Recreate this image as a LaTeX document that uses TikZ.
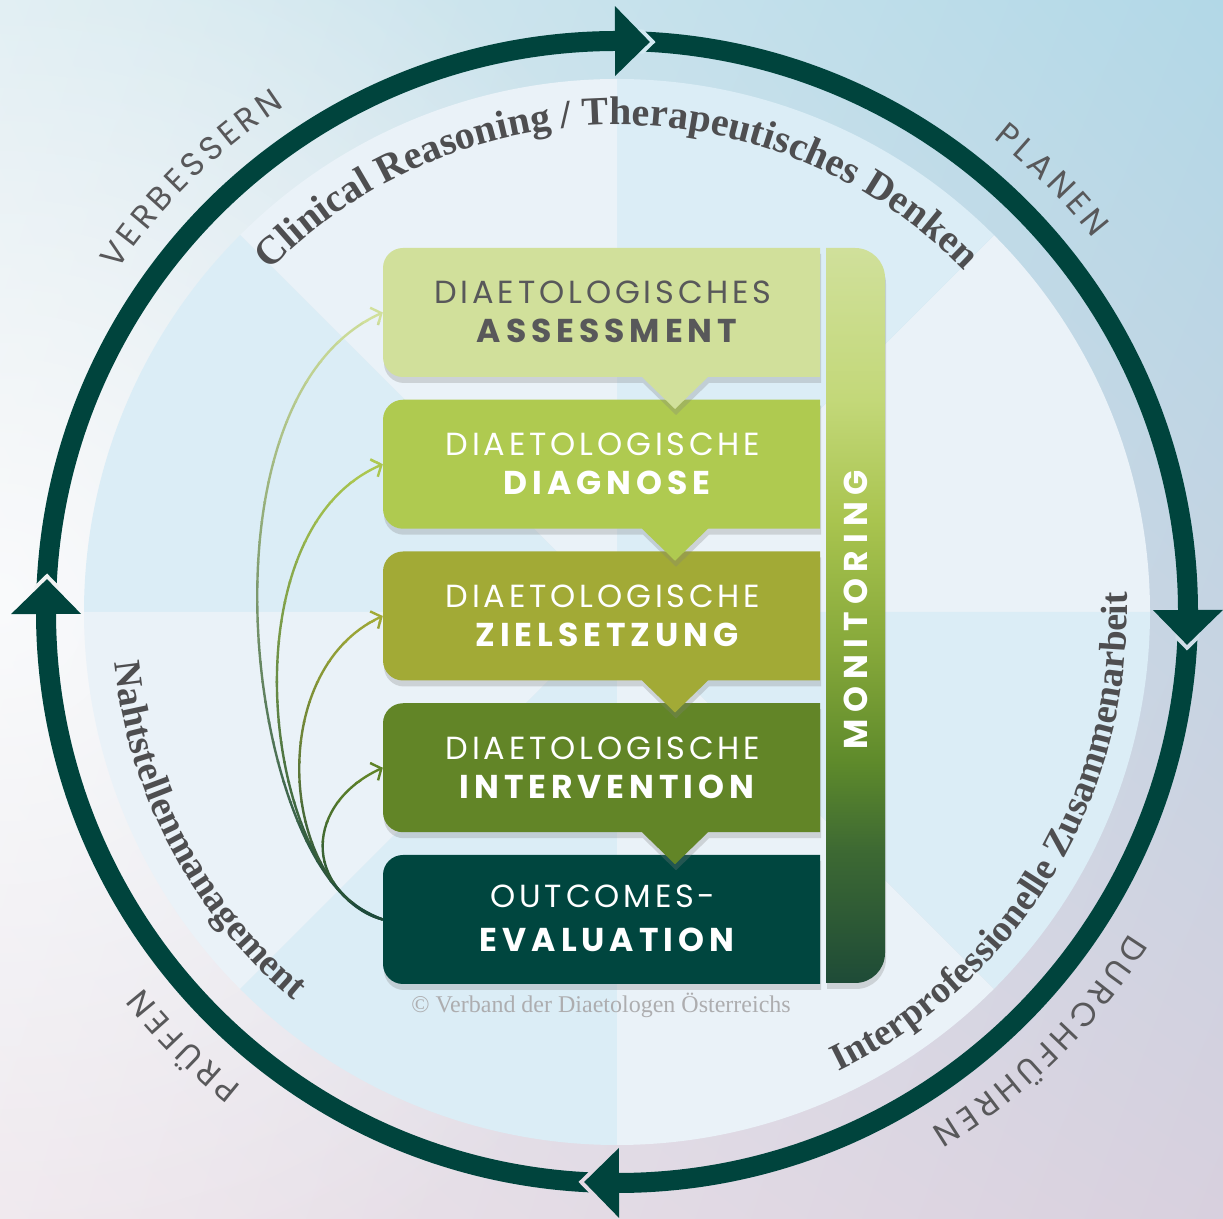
\documentclass[tikz,border=0pt]{standalone}
\usepackage{fontspec}
\usetikzlibrary{calc,decorations.text,shadows,shadings,arrows.meta,fadings}
\newfontfamily\poplt[LetterSpace=12]{Poppins}
\newfontfamily\popbd[LetterSpace=15]{Poppins}
\newfontfamily\popmon[LetterSpace=21]{Poppins}
\newfontfamily\popout{Poppins}
\newfontfamily\serf{Liberation Serif}
\definecolor{ringc}{HTML}{00443D}
\definecolor{cA}{HTML}{D1E09B}
\definecolor{cB}{HTML}{AFCA50}
\definecolor{cC}{HTML}{A2AA36}
\definecolor{cD}{HTML}{628527}
\definecolor{cE}{HTML}{00463F}
\definecolor{tgray}{HTML}{58585A}
\definecolor{arcgray}{HTML}{4E4E50}
\definecolor{dk}{HTML}{1D4A3B}
\definecolor{cpy}{HTML}{ADADAF}
\definecolor{ul}{HTML}{DCECF1}
\definecolor{ur}{HTML}{B2D8E7}
\definecolor{ll}{HTML}{EEE6EC}
\definecolor{lr}{HTML}{D8D0DE}
\definecolor{dlt}{HTML}{EAF2F8}
\definecolor{dbl}{HTML}{DBEDF6}
\definecolor{gapT}{HTML}{D3EAF2}
\definecolor{gapR}{HTML}{D0DEE8}
\definecolor{gapB}{HTML}{E5DBE5}
\definecolor{gapL}{HTML}{F1F3F3}
\definecolor{m0}{HTML}{1E4B37}
\definecolor{m1}{HTML}{3D6933}
\definecolor{m2}{HTML}{5E8A2B}
\definecolor{m3}{HTML}{86A83A}
\definecolor{m4}{HTML}{A9C44F}
\definecolor{m5}{HTML}{C3D879}
\definecolor{m6}{HTML}{D0E09B}
\pgfdeclareverticalshading{monshade}{100bp}{color(0bp)=(m0); color(25bp)=(m0); color(34bp)=(m1); color(40bp)=(m2); color(47.7bp)=(m3); color(56.5bp)=(m4); color(64.7bp)=(m5); color(75bp)=(m6); color(100bp)=(m6)}
\tikzfading[name=softglow, inner color=transparent!0, outer color=transparent!100]
\tikzset{
  boxnode/.style={minimum width=437pt, minimum height=129pt, inner sep=0pt},
  boxshadow/.style={drop shadow={shadow xshift=1pt, shadow yshift=-6pt, opacity=0.28}},
  lineone/.style={anchor=base, inner sep=0pt},
  conn/.style={line width=2.4pt, -{Straight Barb[length=8pt, width=19pt, line width=2.4pt]}},
  outlbl/.style={decorate, decoration={text along path, text align=center, text color=tgray,
      text={|\popout\fontsize{33}{33}\selectfont\fontdimen2\font=4.5pt|#1}}},
  arclbl/.style 2 args={decorate, decoration={text along path, text align=center, text color=arcgray,
      text={|\serf\bfseries\fontsize{#1}{#1}\selectfont|#2}}}
}
\begin{document}
\begin{tikzpicture}[x=1pt,y=1pt]
\useasboundingbox (0,0) rectangle (1223,1218);
\coordinate (C) at (617,606);
% background
\shade[upper left=ul, upper right=ur, lower left=ll, lower right=lr] (0,0) rectangle (1223,1218);
\fill[white, fill opacity=0.8, path fading=softglow] (0,620) circle[radius=760];
% inner disk octants
\foreach \a/\c in {0/dlt,45/dbl,90/dlt,135/dbl,180/dlt,225/dbl,270/dlt,315/dbl}{
  \fill[\c] (C) -- ($(C)+(\a:533)$) arc[start angle=\a, end angle=\a+45, radius=533] -- cycle;
}
% ring
\draw[ringc, line width=20pt] (C) circle[radius=571];
\foreach \t/\gc in {86.7/gapT, -3.3/gapR, 266.7/gapB, 176.7/gapL}{
  \pgfmathsetmacro\b{\t+3.5}
  \begin{scope}[even odd rule]
    \clip (C) circle[radius=583] (C) circle[radius=559];
    \draw[\gc, line width=8pt, line join=miter] ($(C)+(\b:536)$) -- ($(C)+(\t:571)$) -- ($(C)+(\b:606)$);
  \end{scope}
  \fill[ringc] ($(C)+(\b:536)$) -- ($(C)+(\t:571)$) -- ($(C)+(\b:606)$) -- cycle;
}
% outer labels
\path[outlbl={V E R B E S S E R N}] ($(C)+(179.5:605)$) arc[start angle=179.5, end angle=89.5, radius=605];
\path[outlbl={P L A N E N}] ($(C)+(89.8:605)$) arc[start angle=89.8, end angle=-0.2, radius=605];
\path[outlbl={D U R C H F Ü H R E N}] ($(C)+(-0.4:605)$) arc[start angle=-0.4, end angle=-90.4, radius=605];
\path[outlbl={P R Ü F E N}] ($(C)+(270:605)$) arc[start angle=270, end angle=180, radius=605];
% arc labels
\path[arclbl={40}{Clinical Reasoning / Therapeutisches Denken}] ($(C)+(150:487)$) arc[start angle=150, end angle=30, radius=487];
\path[arclbl={38}{Nahtstellenmanagement}] ($(C)+(148:505)$) arc[start angle=148, end angle=268, radius=505];
\path[arclbl={38}{Interprofessionelle Zusammenarbeit}] ($(C)+(-90:510)$) arc[start angle=-90, end angle=28, radius=510];
% monitoring bar
\path[shading=monshade, boxshadow] (826,235) -- (826,970) -- (855,970) arc[start angle=90, end angle=0, radius=30] -- (885,265) arc[start angle=0, end angle=-90, radius=30] -- cycle;
\node[rotate=90, text=white, inner sep=0pt] (mon) at (856,608) {\popmon\bfseries\fontsize{33}{33}\selectfont MONITORING};
% boxes
\foreach \T/\c/\d in {363/cE/0, 514.75/cD/32, 666.5/cC/32, 818.25/cB/32, 970/cA/32}{
  \fill[\c, boxshadow] (820,\T) -- (403,\T) arc[start angle=90, end angle=180, radius=20]
    -- (383,{\T-109}) arc[start angle=180, end angle=270, radius=20]
    -- (642,{\T-129}) -- (675,{\T-129-\d}) -- (708,{\T-129}) -- (820,{\T-129}) -- cycle;
}
\node[boxnode] (b1) at (601.5,905.5) {};
\node[boxnode] (b2) at (601.5,753.75) {};
\node[boxnode] (b3) at (601.5,602) {};
\node[boxnode] (b4) at (601.5,450.25) {};
\node[boxnode] (b5) at (601.5,298.5) {};
% box texts
\node[lineone, text=tgray] (b1a) at (603,914) {\poplt\fontsize{32}{32}\selectfont DIAETOLOGISCHES};
\node[lineone, text=tgray] (b1b) at (607,875) {\popbd\bfseries\fontsize{33}{33}\selectfont ASSESSMENT};
\node[lineone, text=white] (b2a) at (603,762.25) {\poplt\fontsize{32}{32}\selectfont DIAETOLOGISCHE};
\node[lineone, text=white] (b2b) at (607,723.25) {\popbd\bfseries\fontsize{33}{33}\selectfont DIAGNOSE};
\node[lineone, text=white] (b3a) at (603,610.5) {\poplt\fontsize{32}{32}\selectfont DIAETOLOGISCHE};
\node[lineone, text=white] (b3b) at (607,571.5) {\popbd\bfseries\fontsize{33}{33}\selectfont ZIELSETZUNG};
\node[lineone, text=white] (b4a) at (603,458.75) {\poplt\fontsize{32}{32}\selectfont DIAETOLOGISCHE};
\node[lineone, text=white] (b4b) at (607,419.75) {\popbd\bfseries\fontsize{33}{33}\selectfont INTERVENTION};
\node[lineone, text=white] (b5a) at (603,310) {\poplt\fontsize{32}{32}\selectfont OUTCOMES-};
\node[lineone, text=white] (b5b) at (607,266) {\popbd\bfseries\fontsize{33}{33}\selectfont EVALUATION};
% connectors with colour bands
\foreach \tgt/\col/\xa/\xb/\yb/\yt in {b1/cA/250/185/816/905, b2/cB/265/221/684/757, b3/cC/280/264/547/601, b4/cD/300/306/415/450}{
  \foreach \i in {0,...,31}{
    \pgfmathtruncatemacro\pc{max(0,min(100,(20*\i+4)/(\yt-301)*100))}
    \begin{scope}
      \clip (200,{295+20*\i}) rectangle (400,{316+20*\i});
      \draw[conn, draw=\col!\pc!dk] (b5.west) .. controls (\xa,330) and (\xb,\yb) .. (\tgt.west);
    \end{scope}
  }
}
% copyright
\node[anchor=base, text=cpy, inner sep=0pt] (copy) at (601,205) {\serf\fontsize{24}{24}\selectfont \textcopyright\ Verband der Diaetologen Österreichs};
\end{tikzpicture}
\end{document}
